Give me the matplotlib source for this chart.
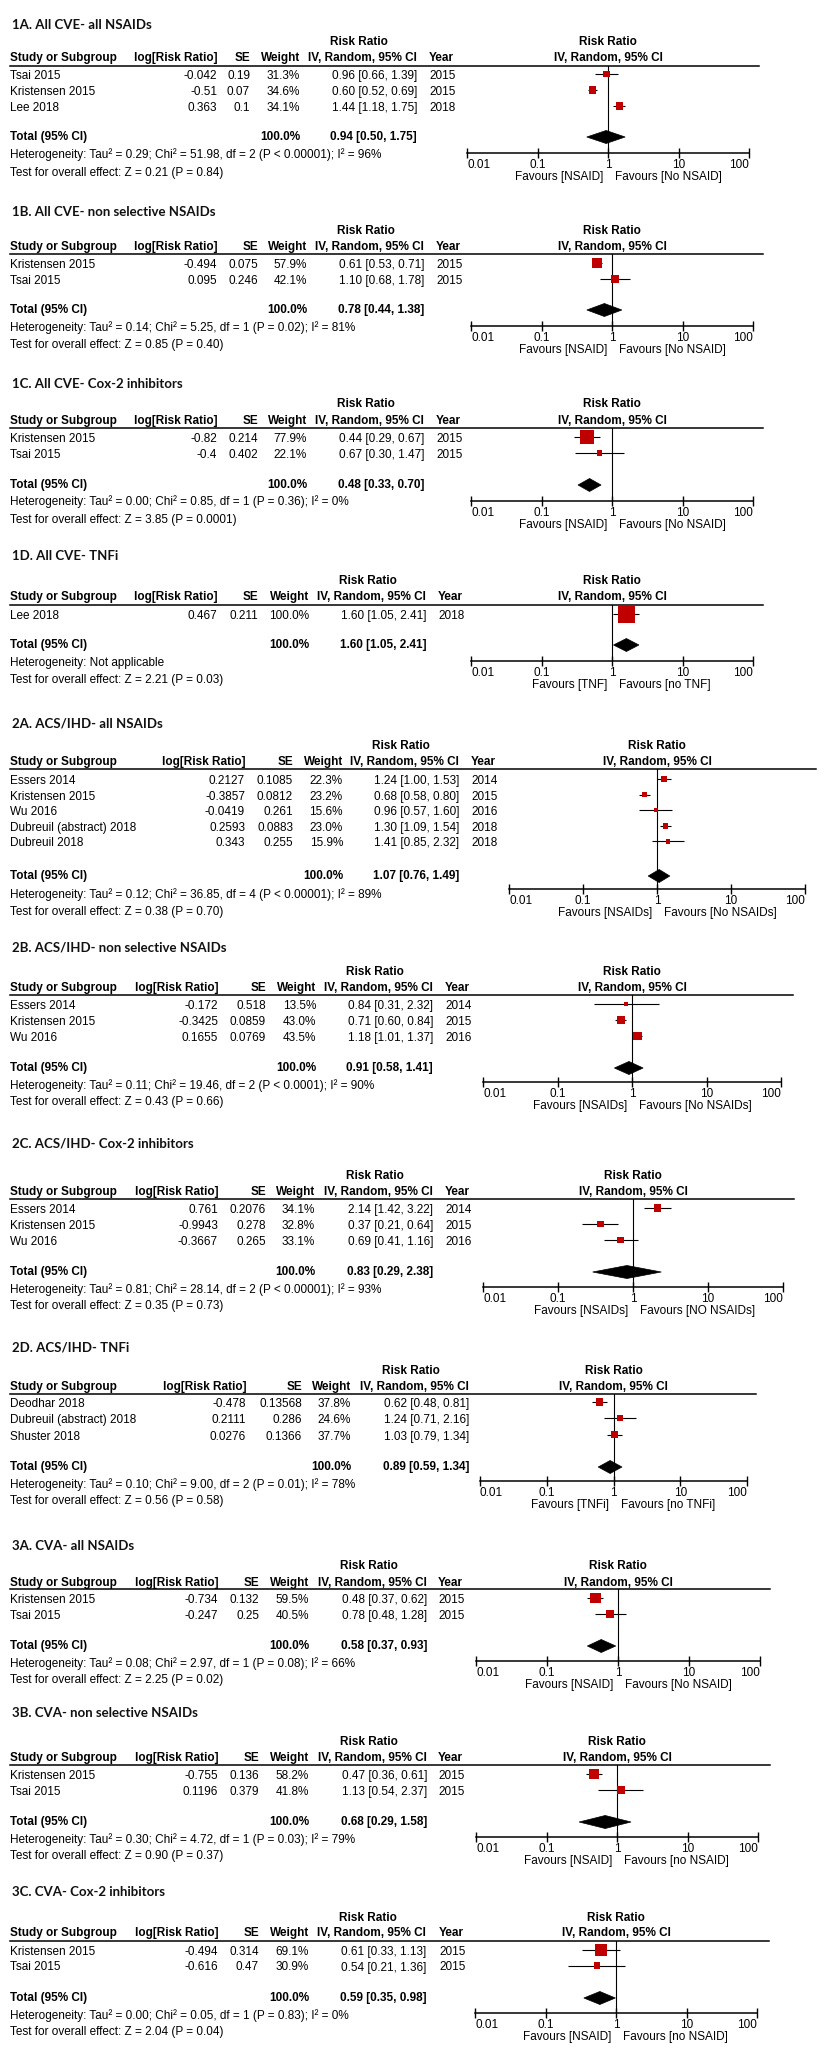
import matplotlib
matplotlib.use('Agg')
import matplotlib.pyplot as plt
from matplotlib.lines import Line2D
from matplotlib.patches import Polygon

W, H = 830, 2066

# ---------------- data ----------------
titles = ['1A. All CVE- all NSAIDs', '1B. All CVE- non selective NSAIDs',
          '1C. All CVE- Cox-2 inhibitors', '1D. All CVE- TNFi',
          '2A. ACS/IHD- all NSAIDs', '2B. ACS/IHD- non selective NSAIDs',
          '2C. ACS/IHD- Cox-2 inhibitors', '2D. ACS/IHD- TNFi',
          '3A. CVA- all NSAIDs', '3B. CVA- non selective NSAIDs',
          '3C. CVA- Cox-2 inhibitors']

# 1A
study_1a = ['Tsai 2015', 'Kristensen 2015', 'Lee 2018']
lnrr_1a = [-0.042, -0.51, 0.363]
se_1a = [0.19, 0.07, 0.1]
weight_1a = [31.3, 34.6, 34.1]
rr_1a = [0.96, 0.60, 1.44]
lo_1a = [0.66, 0.52, 1.18]
hi_1a = [1.39, 0.69, 1.75]
year_1a = [2015, 2015, 2018]
total_1a = [0.94, 0.50, 1.75]
het_1a = 'Heterogeneity: Tau² = 0.29; Chi² = 51.98, df = 2 (P < 0.00001); I² = 96%'
z_1a = 'Test for overall effect: Z = 0.21 (P = 0.84)'
fav_1a = ['Favours [NSAID]', 'Favours [No NSAID]']

# 1B
study_1b = ['Kristensen 2015', 'Tsai 2015']
lnrr_1b = [-0.494, 0.095]
se_1b = [0.075, 0.246]
weight_1b = [57.9, 42.1]
rr_1b = [0.61, 1.10]
lo_1b = [0.53, 0.68]
hi_1b = [0.71, 1.78]
year_1b = [2015, 2015]
total_1b = [0.78, 0.44, 1.38]
het_1b = 'Heterogeneity: Tau² = 0.14; Chi² = 5.25, df = 1 (P = 0.02); I² = 81%'
z_1b = 'Test for overall effect: Z = 0.85 (P = 0.40)'
fav_1b = ['Favours [NSAID]', 'Favours [No NSAID]']

# 1C
study_1c = ['Kristensen 2015', 'Tsai 2015']
lnrr_1c = [-0.82, -0.4]
se_1c = [0.214, 0.402]
weight_1c = [77.9, 22.1]
rr_1c = [0.44, 0.67]
lo_1c = [0.29, 0.30]
hi_1c = [0.67, 1.47]
year_1c = [2015, 2015]
total_1c = [0.48, 0.33, 0.70]
het_1c = 'Heterogeneity: Tau² = 0.00; Chi² = 0.85, df = 1 (P = 0.36); I² = 0%'
z_1c = 'Test for overall effect: Z = 3.85 (P = 0.0001)'
fav_1c = ['Favours [NSAID]', 'Favours [No NSAID]']

# 1D
study_1d = ['Lee 2018']
lnrr_1d = [0.467]
se_1d = [0.211]
weight_1d = [100.0]
rr_1d = [1.60]
lo_1d = [1.05]
hi_1d = [2.41]
year_1d = [2018]
total_1d = [1.60, 1.05, 2.41]
het_1d = 'Heterogeneity: Not applicable'
z_1d = 'Test for overall effect: Z = 2.21 (P = 0.03)'
fav_1d = ['Favours [TNF]', 'Favours [no TNF]']

# 2A
study_2a = ['Essers 2014', 'Kristensen 2015', 'Wu 2016', 'Dubreuil (abstract) 2018', 'Dubreuil 2018']
lnrr_2a = [0.2127, -0.3857, -0.0419, 0.2593, 0.343]
se_2a = [0.1085, 0.0812, 0.261, 0.0883, 0.255]
weight_2a = [22.3, 23.2, 15.6, 23.0, 15.9]
rr_2a = [1.24, 0.68, 0.96, 1.30, 1.41]
lo_2a = [1.00, 0.58, 0.57, 1.09, 0.85]
hi_2a = [1.53, 0.80, 1.60, 1.54, 2.32]
year_2a = [2014, 2015, 2016, 2018, 2018]
total_2a = [1.07, 0.76, 1.49]
het_2a = 'Heterogeneity: Tau² = 0.12; Chi² = 36.85, df = 4 (P < 0.00001); I² = 89%'
z_2a = 'Test for overall effect: Z = 0.38 (P = 0.70)'
fav_2a = ['Favours [NSAIDs]', 'Favours [No NSAIDs]']

# 2B
study_2b = ['Essers 2014', 'Kristensen 2015', 'Wu 2016']
lnrr_2b = [-0.172, -0.3425, 0.1655]
se_2b = [0.518, 0.0859, 0.0769]
weight_2b = [13.5, 43.0, 43.5]
rr_2b = [0.84, 0.71, 1.18]
lo_2b = [0.31, 0.60, 1.01]
hi_2b = [2.32, 0.84, 1.37]
year_2b = [2014, 2015, 2016]
total_2b = [0.91, 0.58, 1.41]
het_2b = 'Heterogeneity: Tau² = 0.11; Chi² = 19.46, df = 2 (P < 0.0001); I² = 90%'
z_2b = 'Test for overall effect: Z = 0.43 (P = 0.66)'
fav_2b = ['Favours [NSAIDs]', 'Favours [No NSAIDs]']

# 2C
study_2c = ['Essers 2014', 'Kristensen 2015', 'Wu 2016']
lnrr_2c = [0.761, -0.9943, -0.3667]
se_2c = [0.2076, 0.278, 0.265]
weight_2c = [34.1, 32.8, 33.1]
rr_2c = [2.14, 0.37, 0.69]
lo_2c = [1.42, 0.21, 0.41]
hi_2c = [3.22, 0.64, 1.16]
year_2c = [2014, 2015, 2016]
total_2c = [0.83, 0.29, 2.38]
het_2c = 'Heterogeneity: Tau² = 0.81; Chi² = 28.14, df = 2 (P < 0.00001); I² = 93%'
z_2c = 'Test for overall effect: Z = 0.35 (P = 0.73)'
fav_2c = ['Favours [NSAIDs]', 'Favours [NO NSAIDs]']

# 2D
study_2d = ['Deodhar 2018', 'Dubreuil (abstract) 2018', 'Shuster 2018']
lnrr_2d = [-0.478, 0.2111, 0.0276]
se_2d = [0.13568, 0.286, 0.1366]
weight_2d = [37.8, 24.6, 37.7]
rr_2d = [0.62, 1.24, 1.03]
lo_2d = [0.48, 0.71, 0.79]
hi_2d = [0.81, 2.16, 1.34]
year_2d = None
total_2d = [0.89, 0.59, 1.34]
het_2d = 'Heterogeneity: Tau² = 0.10; Chi² = 9.00, df = 2 (P = 0.01); I² = 78%'
z_2d = 'Test for overall effect: Z = 0.56 (P = 0.58)'
fav_2d = ['Favours [TNFi]', 'Favours [no TNFi]']

# 3A
study_3a = ['Kristensen 2015', 'Tsai 2015']
lnrr_3a = [-0.734, -0.247]
se_3a = [0.132, 0.25]
weight_3a = [59.5, 40.5]
rr_3a = [0.48, 0.78]
lo_3a = [0.37, 0.48]
hi_3a = [0.62, 1.28]
year_3a = [2015, 2015]
total_3a = [0.58, 0.37, 0.93]
het_3a = 'Heterogeneity: Tau² = 0.08; Chi² = 2.97, df = 1 (P = 0.08); I² = 66%'
z_3a = 'Test for overall effect: Z = 2.25 (P = 0.02)'
fav_3a = ['Favours [NSAID]', 'Favours [No NSAID]']

# 3B
study_3b = ['Kristensen 2015', 'Tsai 2015']
lnrr_3b = [-0.755, 0.1196]
se_3b = [0.136, 0.379]
weight_3b = [58.2, 41.8]
rr_3b = [0.47, 1.13]
lo_3b = [0.36, 0.54]
hi_3b = [0.61, 2.37]
year_3b = [2015, 2015]
total_3b = [0.68, 0.29, 1.58]
het_3b = 'Heterogeneity: Tau² = 0.30; Chi² = 4.72, df = 1 (P = 0.03); I² = 79%'
z_3b = 'Test for overall effect: Z = 0.90 (P = 0.37)'
fav_3b = ['Favours [NSAID]', 'Favours [no NSAID]']

# 3C
study_3c = ['Kristensen 2015', 'Tsai 2015']
lnrr_3c = [-0.494, -0.616]
se_3c = [0.314, 0.47]
weight_3c = [69.1, 30.9]
rr_3c = [0.61, 0.54]
lo_3c = [0.33, 0.21]
hi_3c = [1.13, 1.36]
year_3c = [2015, 2015]
total_3c = [0.59, 0.35, 0.98]
het_3c = 'Heterogeneity: Tau² = 0.00; Chi² = 0.05, df = 1 (P = 0.83); I² = 0%'
z_3c = 'Test for overall effect: Z = 2.04 (P = 0.04)'
fav_3c = ['Favours [NSAID]', 'Favours [no NSAID]']

tick_vals = [0.01, 0.1, 1, 10, 100]
tick_labels = ['0.01', '0.1', '1', '10', '100']

panels = [
    (study_1a, lnrr_1a, se_1a, weight_1a, rr_1a, lo_1a, hi_1a, year_1a, total_1a, het_1a, z_1a, fav_1a),
    (study_1b, lnrr_1b, se_1b, weight_1b, rr_1b, lo_1b, hi_1b, year_1b, total_1b, het_1b, z_1b, fav_1b),
    (study_1c, lnrr_1c, se_1c, weight_1c, rr_1c, lo_1c, hi_1c, year_1c, total_1c, het_1c, z_1c, fav_1c),
    (study_1d, lnrr_1d, se_1d, weight_1d, rr_1d, lo_1d, hi_1d, year_1d, total_1d, het_1d, z_1d, fav_1d),
    (study_2a, lnrr_2a, se_2a, weight_2a, rr_2a, lo_2a, hi_2a, year_2a, total_2a, het_2a, z_2a, fav_2a),
    (study_2b, lnrr_2b, se_2b, weight_2b, rr_2b, lo_2b, hi_2b, year_2b, total_2b, het_2b, z_2b, fav_2b),
    (study_2c, lnrr_2c, se_2c, weight_2c, rr_2c, lo_2c, hi_2c, year_2c, total_2c, het_2c, z_2c, fav_2c),
    (study_2d, lnrr_2d, se_2d, weight_2d, rr_2d, lo_2d, hi_2d, year_2d, total_2d, het_2d, z_2d, fav_2d),
    (study_3a, lnrr_3a, se_3a, weight_3a, rr_3a, lo_3a, hi_3a, year_3a, total_3a, het_3a, z_3a, fav_3a),
    (study_3b, lnrr_3b, se_3b, weight_3b, rr_3b, lo_3b, hi_3b, year_3b, total_3b, het_3b, z_3b, fav_3b),
    (study_3c, lnrr_3c, se_3c, weight_3c, rr_3c, lo_3c, hi_3c, year_3c, total_3c, het_3c, z_3c, fav_3c),
]

# ---------------- layout (pixels, top-down) ----------------
# title, rr header, col header, line, first row, row step, total, het, test, axis
vpos = [
    (25, 42, 58, 66, 76, 16, 137, 155, 173, 153),
    (212, 231, 247, 254, 265, 16, 310, 328, 345, 326),
    (384, 404, 421, 428, 439, 16, 485, 502, 520, 501),
    (556, 581, 597, 605, 616, 16, 645, 663, 680, 661),
    (723, 746, 762, 769, 781, 15.6, 876, 895, 912, 889),
    (947, 972, 988, 995, 1006, 16, 1068, 1086, 1102, 1082),
    (1144, 1176, 1192, 1199, 1210, 16, 1272, 1290, 1306, 1287),
    (1347, 1371, 1387, 1394, 1404, 16.3, 1467, 1485, 1501, 1481),
    (1546, 1566, 1583, 1589, 1600, 16, 1646, 1664, 1680, 1661),
    (1713, 1742, 1758, 1765, 1776, 16, 1822, 1840, 1856, 1837),
    (1892, 1918, 1933, 1941, 1952, 15.5, 1998, 2016, 2032, 2013),
]
# log right, se right, weight right, ci right, year left, axis left, axis right, line right
hpos = [
    (217, 250, 300, 417, 429, 467, 749, 759),
    (217, 258, 307, 424, 436, 471, 753, 763),
    (217, 258, 307, 424, 436, 471, 753, 763),
    (217, 258, 309, 426, 438, 471, 753, 763),
    (245, 293, 343, 459, 471, 509, 805, 816),
    (218, 266, 316, 433, 445, 483, 781, 793),
    (218, 266, 315, 433, 445, 483, 783, 794),
    (246, 302, 351, 469, None, 480, 747, 756),
    (218, 259, 309, 427, 438, 476, 760, 770),
    (218, 259, 309, 427, 438, 476, 758, 770),
    (218, 259, 309, 426, 439, 475, 757, 769),
]

RED = '#C00000'
FONT = 'Liberation Sans'
FS = 8.5

fig = plt.figure(figsize=(W / 100, H / 100), dpi=100)


def fx(x):
    return x / W


def fy(y):
    return 1 - y / H


def txt(x, y, s, ha='left', bold=False):
    fig.text(fx(x), fy(y), s, ha=ha, va='center', fontsize=FS,
             fontweight='bold' if bold else 'normal', family=FONT)


for k, (p, v, h) in enumerate(zip(panels, vpos, hpos)):
    study, lnrr, se, weight, rr, lo, hi, year, total, het, ztest, fav = p
    t_y, rr_y, hd_y, ln_y, r0, step, tot_y, het_y, z_y, axis_y = v
    log_r, se_r, w_r, ci_r, yr_x, ax_l, ax_r, ln_r = h
    one_x = (ax_l + ax_r) / 2

    fig.text(fx(12), fy(t_y), titles[k], ha='left', va='center', fontsize=9.5,
             fontweight='bold', family='Lato', color='#111111')

    # headers
    txt(ci_r - 58, rr_y, 'Risk Ratio', ha='center', bold=True)
    txt(one_x, rr_y, 'Risk Ratio', ha='center', bold=True)
    txt(10, hd_y, 'Study or Subgroup', bold=True)
    txt(log_r, hd_y, 'log[Risk Ratio]', ha='right', bold=True)
    txt(se_r, hd_y, 'SE', ha='right', bold=True)
    txt(w_r, hd_y, 'Weight', ha='right', bold=True)
    txt(ci_r, hd_y, 'IV, Random, 95% CI', ha='right', bold=True)
    if yr_x is not None:
        txt(yr_x, hd_y, 'Year', bold=True)
    txt(one_x, hd_y, 'IV, Random, 95% CI', ha='center', bold=True)
    fig.add_artist(Line2D([fx(10), fx(ln_r)], [fy(ln_y), fy(ln_y)], color='black',
                          lw=1.1, transform=fig.transFigure))

    rows_y = [r0 + i * step for i in range(len(study))]
    for i, y in enumerate(rows_y):
        txt(10, y, study[i])
        txt(log_r, y, str(lnrr[i]), ha='right')
        txt(se_r, y, str(se[i]), ha='right')
        txt(w_r, y, f'{weight[i]:.1f}%', ha='right')
        txt(ci_r, y, f'{rr[i]:.2f} [{lo[i]:.2f}, {hi[i]:.2f}]', ha='right')
        if year is not None:
            txt(yr_x, y, str(year[i]))

    txt(10, tot_y, 'Total (95% CI)', bold=True)
    txt(w_r, tot_y, '100.0%', ha='right', bold=True)
    txt(ci_r, tot_y, f'{total[0]:.2f} [{total[1]:.2f}, {total[2]:.2f}]', ha='right', bold=True)
    txt(10, het_y, het)
    txt(10, z_y, ztest)

    # forest plot
    ax = fig.add_axes([fx(ax_l), fy(axis_y), (ax_r - ax_l) / W, (axis_y - ln_y) / H])
    ax.set_xscale('log')
    ax.set_xlim(0.01, 100)
    ax.set_ylim(axis_y, ln_y)
    ax.patch.set_alpha(0)
    for s in ['top', 'left', 'right']:
        ax.spines[s].set_visible(False)
    ax.spines['bottom'].set_linewidth(1.1)
    ax.set_yticks([])
    ax.set_xticks(tick_vals)
    labs = ax.set_xticklabels(tick_labels, fontsize=FS, family=FONT)
    labs[0].set_ha('left')
    labs[-1].set_ha('right')
    ax.minorticks_off()
    ax.tick_params(axis='x', direction='inout', length=7, width=1, pad=0.5)
    ax.axvline(1, color='black', lw=0.8)

    my = [y - 2 for y in rows_y]
    ax.hlines(my, lo, hi, color='black', lw=0.8, zorder=2)
    sizes = [((2 + 15 * w / 100) * 0.72) ** 2 for w in weight]
    ax.scatter(rr, my, s=sizes, marker='s', color=RED, linewidths=0, zorder=3)

    dh = 6.5
    ax.add_patch(Polygon([(total[1], tot_y), (total[0], tot_y - dh), (total[2], tot_y),
                          (total[0], tot_y + dh)], closed=True, facecolor='black',
                         edgecolor='black', lw=0.5, clip_on=False, zorder=4))

    txt(one_x - 5, axis_y + 24, fav[0], ha='right')
    txt(one_x + 7, axis_y + 24, fav[1])

fig.savefig('out.png', dpi=100, facecolor='white')
